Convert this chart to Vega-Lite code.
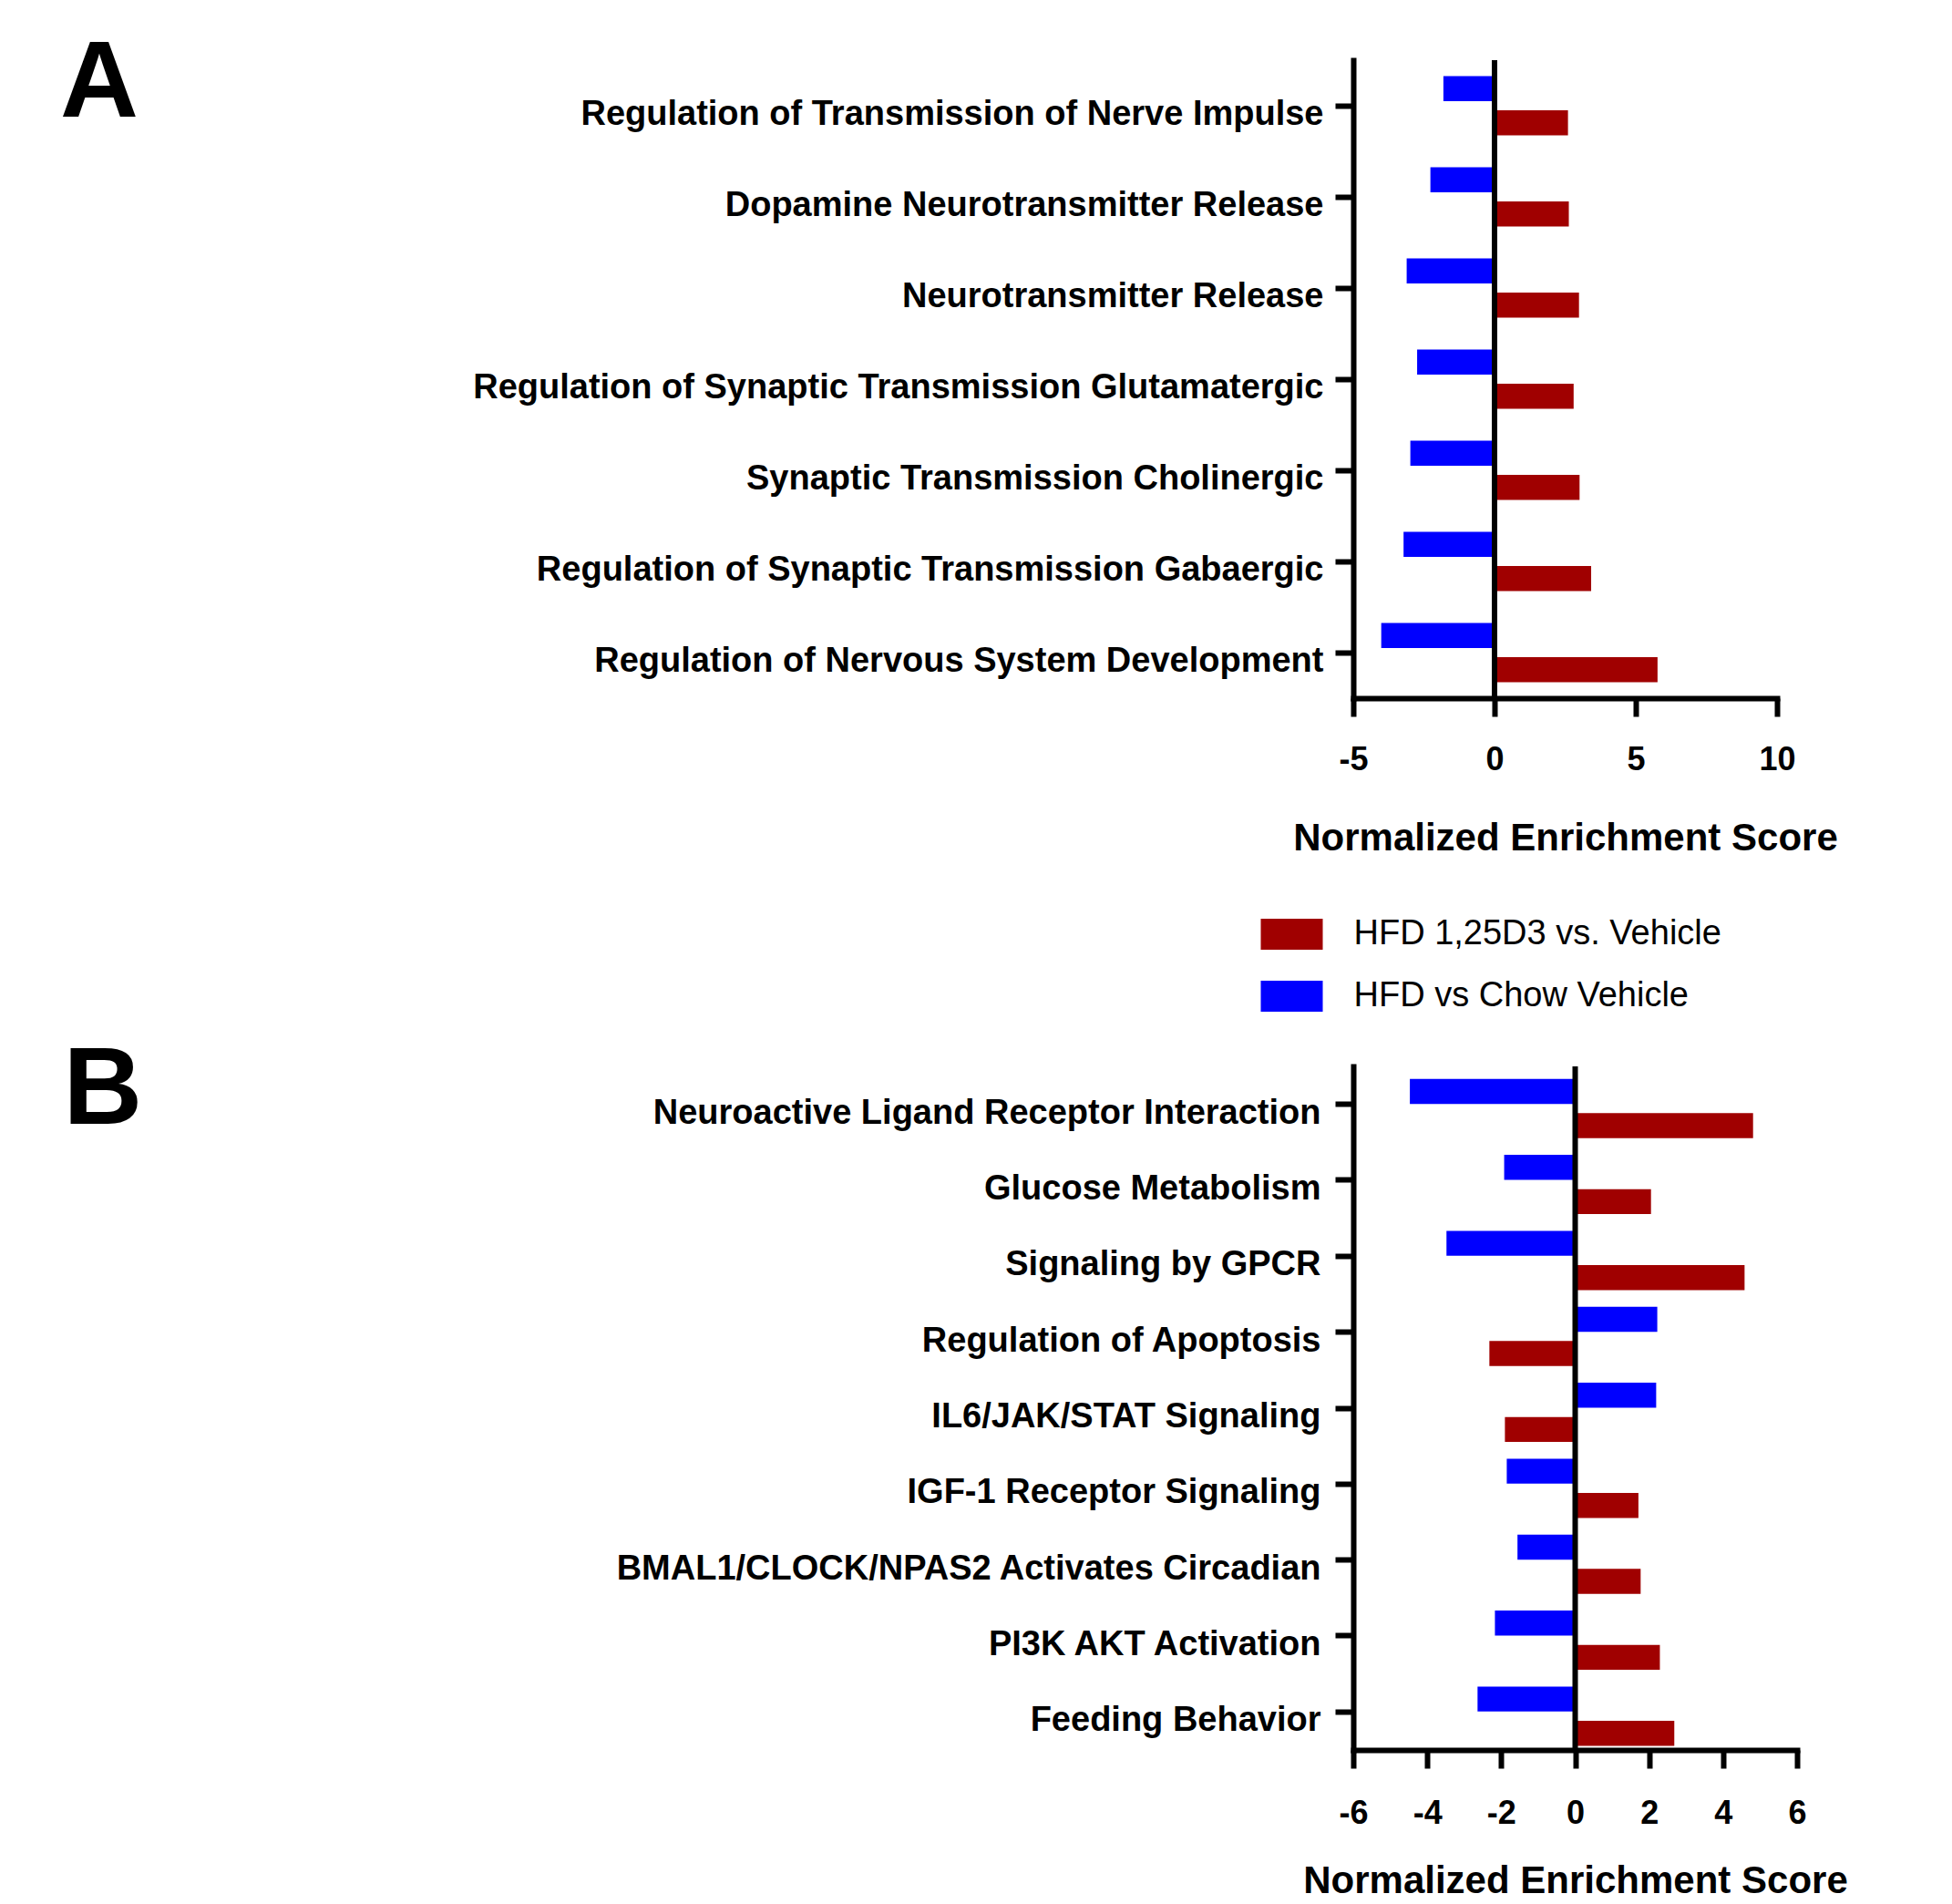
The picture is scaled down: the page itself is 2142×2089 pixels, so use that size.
{
  "$schema": "https://vega.github.io/schema/vega-lite/v6.json",
  "background": "white",
  "autosize": {"type": "pad"},
  "padding": {"left": 65, "top": 32, "right": 0, "bottom": 0},
  "config": {
    "font": "Liberation Sans",
    "view": {"stroke": null},
    "axis": {
      "grid": false,
      "domainColor": "black",
      "domainWidth": 6,
      "domainCap": "square",
      "tickColor": "black",
      "tickWidth": 6,
      "tickSize": 20,
      "labelColor": "black",
      "labelFont": "Liberation Sans",
      "labelFontWeight": "bold",
      "titleColor": "black",
      "titleFont": "Liberation Sans",
      "titleFontWeight": "bold"
    }
  },
  "data": {
    "values": [
      {"panel": "A", "pathway": "Regulation of Transmission of Nerve Impulse", "series": "HFD vs Chow Vehicle", "nes": -1.81},
      {"panel": "A", "pathway": "Regulation of Transmission of Nerve Impulse", "series": "HFD 1,25D3 vs. Vehicle", "nes": 2.60},
      {"panel": "A", "pathway": "Dopamine Neurotransmitter Release", "series": "HFD vs Chow Vehicle", "nes": -2.27},
      {"panel": "A", "pathway": "Dopamine Neurotransmitter Release", "series": "HFD 1,25D3 vs. Vehicle", "nes": 2.63},
      {"panel": "A", "pathway": "Neurotransmitter Release", "series": "HFD vs Chow Vehicle", "nes": -3.11},
      {"panel": "A", "pathway": "Neurotransmitter Release", "series": "HFD 1,25D3 vs. Vehicle", "nes": 2.99},
      {"panel": "A", "pathway": "Regulation of Synaptic Transmission Glutamatergic", "series": "HFD vs Chow Vehicle", "nes": -2.74},
      {"panel": "A", "pathway": "Regulation of Synaptic Transmission Glutamatergic", "series": "HFD 1,25D3 vs. Vehicle", "nes": 2.80},
      {"panel": "A", "pathway": "Synaptic Transmission Cholinergic", "series": "HFD vs Chow Vehicle", "nes": -2.98},
      {"panel": "A", "pathway": "Synaptic Transmission Cholinergic", "series": "HFD 1,25D3 vs. Vehicle", "nes": 3.01},
      {"panel": "A", "pathway": "Regulation of Synaptic Transmission Gabaergic", "series": "HFD vs Chow Vehicle", "nes": -3.22},
      {"panel": "A", "pathway": "Regulation of Synaptic Transmission Gabaergic", "series": "HFD 1,25D3 vs. Vehicle", "nes": 3.42},
      {"panel": "A", "pathway": "Regulation of Nervous System Development", "series": "HFD vs Chow Vehicle", "nes": -4.01},
      {"panel": "A", "pathway": "Regulation of Nervous System Development", "series": "HFD 1,25D3 vs. Vehicle", "nes": 5.77},
      {"panel": "B", "pathway": "Neuroactive Ligand Receptor Interaction", "series": "HFD vs Chow Vehicle", "nes": -4.47},
      {"panel": "B", "pathway": "Neuroactive Ligand Receptor Interaction", "series": "HFD 1,25D3 vs. Vehicle", "nes": 4.81},
      {"panel": "B", "pathway": "Glucose Metabolism", "series": "HFD vs Chow Vehicle", "nes": -1.92},
      {"panel": "B", "pathway": "Glucose Metabolism", "series": "HFD 1,25D3 vs. Vehicle", "nes": 2.05},
      {"panel": "B", "pathway": "Signaling by GPCR", "series": "HFD vs Chow Vehicle", "nes": -3.48},
      {"panel": "B", "pathway": "Signaling by GPCR", "series": "HFD 1,25D3 vs. Vehicle", "nes": 4.58},
      {"panel": "B", "pathway": "Regulation of Apoptosis", "series": "HFD vs Chow Vehicle", "nes": 2.22},
      {"panel": "B", "pathway": "Regulation of Apoptosis", "series": "HFD 1,25D3 vs. Vehicle", "nes": -2.32},
      {"panel": "B", "pathway": "IL6/JAK/STAT Signaling", "series": "HFD vs Chow Vehicle", "nes": 2.19},
      {"panel": "B", "pathway": "IL6/JAK/STAT Signaling", "series": "HFD 1,25D3 vs. Vehicle", "nes": -1.90},
      {"panel": "B", "pathway": "IGF-1 Receptor Signaling", "series": "HFD vs Chow Vehicle", "nes": -1.85},
      {"panel": "B", "pathway": "IGF-1 Receptor Signaling", "series": "HFD 1,25D3 vs. Vehicle", "nes": 1.71},
      {"panel": "B", "pathway": "BMAL1/CLOCK/NPAS2 Activates Circadian", "series": "HFD vs Chow Vehicle", "nes": -1.56},
      {"panel": "B", "pathway": "BMAL1/CLOCK/NPAS2 Activates Circadian", "series": "HFD 1,25D3 vs. Vehicle", "nes": 1.77},
      {"panel": "B", "pathway": "PI3K AKT Activation", "series": "HFD vs Chow Vehicle", "nes": -2.17},
      {"panel": "B", "pathway": "PI3K AKT Activation", "series": "HFD 1,25D3 vs. Vehicle", "nes": 2.29},
      {"panel": "B", "pathway": "Feeding Behavior", "series": "HFD vs Chow Vehicle", "nes": -2.64},
      {"panel": "B", "pathway": "Feeding Behavior", "series": "HFD 1,25D3 vs. Vehicle", "nes": 2.68}
    ]
  },
  "columns": 1,
  "align": "none",
  "spacing": 196,
  "resolve": {"scale": {"color": "shared"}},
  "concat": [
    {
      "width": 465,
      "height": 700,
      "transform": [{"filter": "datum.panel === 'A'"}],
      "layer": [
        {
          "mark": {"type": "bar"},
          "encoding": {
            "y": {"field": "pathway", "type": "nominal", "sort": null,
                  "scale": {"paddingInner": 0.35, "paddingOuter": 0.175},
                  "axis": {"title": "A", "titleAngle": 0, "titleAlign": "left", "titleBaseline": "alphabetic", "titleX": -1419.5, "titleY": 61, "titleFontSize": 119,
                           "labelFontSize": 38, "labelPadding": 13, "labelOffset": 10, "labelLimit": 3000, "labelBaseline": "middle"}},
            "yOffset": {"field": "series", "type": "nominal", "sort": ["HFD vs Chow Vehicle", "HFD 1,25D3 vs. Vehicle"], "scale": {"paddingInner": 0.27, "paddingOuter": 0}},
            "x": {"field": "nes", "type": "quantitative",
                  "scale": {"domain": [-5, 10], "nice": false, "zero": false},
                  "axis": {"values": [-5, 0, 5, 10], "labelExpr": "'' + datum.value", "title": "Normalized Enrichment Score", "labelFontSize": 36, "labelPadding": 30, "labelFlush": false, "titleFontSize": 42, "titlePadding": 48}},
            "color": {"field": "series", "type": "nominal",
                      "scale": {"domain": ["HFD 1,25D3 vs. Vehicle", "HFD vs Chow Vehicle"], "range": ["#A00000", "#0000FF"]},
                      "legend": {"title": null, "orient": "none", "legendX": -101.5, "legendY": 925, "padding": 0, "symbolType": "M-1,-0.5H1V0.5H-1Z", "symbolSize": 4624, "symbolStrokeWidth": 0, "symbolOpacity": 1, "labelFont": "Liberation Sans", "labelFontSize": 38, "labelFontWeight": "normal", "labelColor": "black", "labelOffset": 34, "rowPadding": 15, "labelLimit": 1000}}
          }
        },
        {
          "data": {"values": [{}]},
          "mark": {"type": "rule", "strokeWidth": 6, "color": "black"},
          "encoding": {"x": {"datum": 0}}
        }
      ]
    },
    {
      "width": 487,
      "height": 750,
      "transform": [{"filter": "datum.panel === 'B'"}],
      "layer": [
        {
          "mark": {"type": "bar"},
          "encoding": {
            "y": {"field": "pathway", "type": "nominal", "sort": null,
                  "scale": {"paddingInner": 0.33, "paddingOuter": 0.165},
                  "axis": {"title": "B", "titleAngle": 0, "titleAlign": "left", "titleBaseline": "alphabetic", "titleX": -1416, "titleY": 62, "titleFontSize": 120,
                           "labelFontSize": 38, "labelPadding": 16, "labelOffset": 10, "labelLimit": 3000, "labelBaseline": "middle"}},
            "yOffset": {"field": "series", "type": "nominal", "sort": ["HFD vs Chow Vehicle", "HFD 1,25D3 vs. Vehicle"], "scale": {"paddingInner": 0.25, "paddingOuter": 0}},
            "x": {"field": "nes", "type": "quantitative",
                  "scale": {"domain": [-6, 6], "nice": false, "zero": false},
                  "axis": {"values": [-6, -4, -2, 0, 2, 4, 6], "labelExpr": "'' + datum.value", "title": "Normalized Enrichment Score", "labelFontSize": 36, "labelPadding": 32, "labelFlush": false, "titleFontSize": 42, "titlePadding": 36}},
            "color": {"field": "series", "type": "nominal",
                      "scale": {"domain": ["HFD 1,25D3 vs. Vehicle", "HFD vs Chow Vehicle"], "range": ["#A00000", "#0000FF"]},
                      "legend": {"title": null, "orient": "none", "legendX": -101.5, "legendY": 925, "padding": 0, "symbolType": "M-1,-0.5H1V0.5H-1Z", "symbolSize": 4624, "symbolStrokeWidth": 0, "symbolOpacity": 1, "labelFont": "Liberation Sans", "labelFontSize": 38, "labelFontWeight": "normal", "labelColor": "black", "labelOffset": 34, "rowPadding": 15, "labelLimit": 1000}}
          }
        },
        {
          "data": {"values": [{}]},
          "mark": {"type": "rule", "strokeWidth": 6, "color": "black"},
          "encoding": {"x": {"datum": 0}}
        }
      ]
    }
  ]
}
